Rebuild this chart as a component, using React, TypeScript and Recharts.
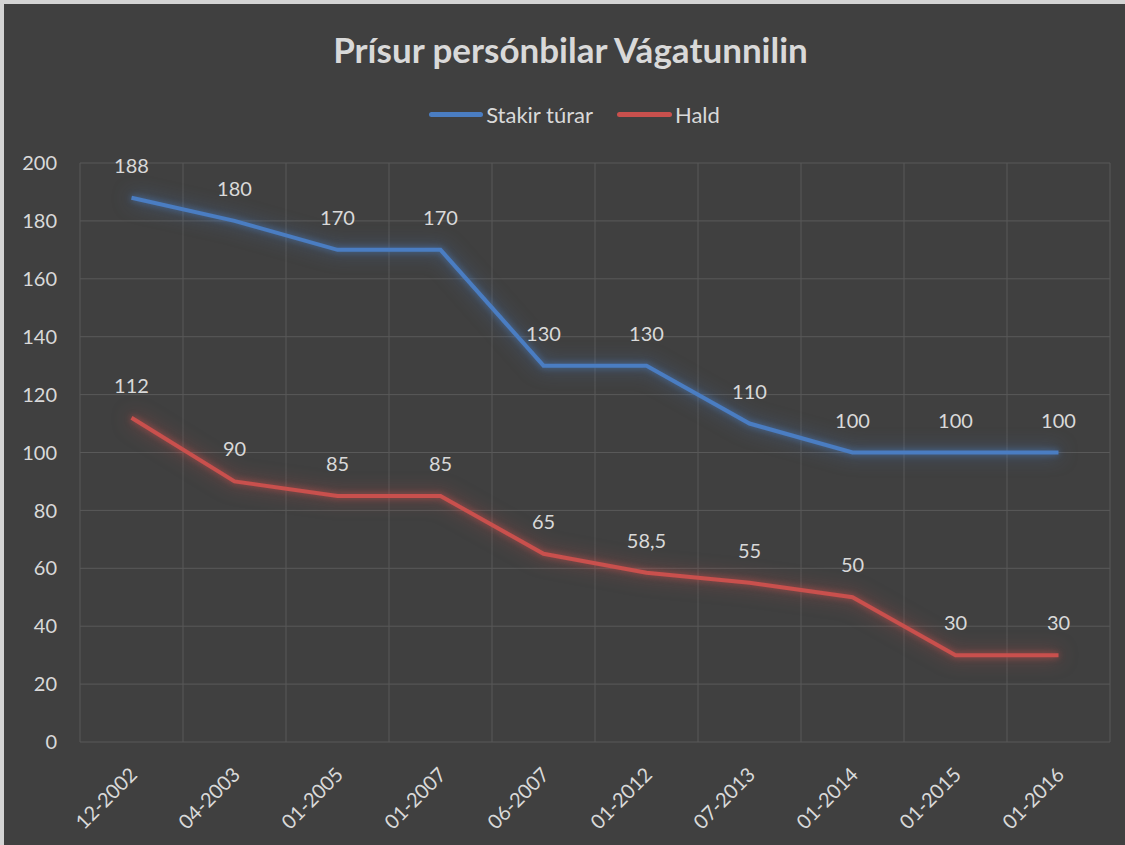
import React from "react";
import {
  LineChart,
  Line,
  XAxis,
  YAxis,
  CartesianGrid,
  Legend,
  LabelList,
} from "recharts";

const categories = [
  "12-2002",
  "04-2003",
  "01-2005",
  "01-2007",
  "06-2007",
  "01-2012",
  "07-2013",
  "01-2014",
  "01-2015",
  "01-2016",
];
const stakirTurar = [188, 180, 170, 170, 130, 130, 110, 100, 100, 100];
const hald = [112, 90, 85, 85, 65, 58.5, 55, 50, 30, 30];
const yTicks = [0, 20, 40, 60, 80, 100, 120, 140, 160, 180, 200];

const seriesNames = { a: "Stakir túrar", b: "Hald" };
const BLUE = "#4A7DC2";
const RED = "#C9504D";
const TEXT = "#D9D9D9";
const FONT = "Lato, 'Open Sans', sans-serif";

const data = categories.map((c, i) => ({
  date: c,
  a: stakirTurar[i],
  b: hald[i],
}));

const fmt = (v: any) => String(v).replace(".", ",");

const XTick = (props: any) => {
  const { x, y, payload } = props;
  const ty = y + 29;
  return (
    <text
      x={x + 2}
      y={ty}
      dy="0.35em"
      textAnchor="end"
      fill={TEXT}
      fontSize={20}
      fontFamily={FONT}
      transform={`rotate(-45, ${x + 2}, ${ty})`}
    >
      {payload.value}
    </text>
  );
};

const LegendContent = () => (
  <div
    style={{
      display: "flex",
      justifyContent: "center",
      alignItems: "center",
      height: 30,
      paddingLeft: 20,
      fontFamily: FONT,
      fontSize: 22,
      color: TEXT,
    }}
  >
    <div style={{ display: "flex", alignItems: "center", marginRight: 24 }}>
      <div style={{ width: 54, height: 5, flexShrink: 0, borderRadius: 3, background: BLUE, marginRight: 3 }} />
      <span>{seriesNames.a}</span>
    </div>
    <div style={{ display: "flex", alignItems: "center" }}>
      <div style={{ width: 55, height: 5, flexShrink: 0, borderRadius: 3, background: RED, marginRight: 3 }} />
      <span>{seriesNames.b}</span>
    </div>
  </div>
);

export default function App() {
  const n = categories.length;
  return (
    <div
      style={{
        position: "absolute",
        left: 0,
        top: 0,
        width: 1125,
        height: 845,
        background: "#D4D4D4",
        overflow: "hidden",
      }}
    >
      <style>{`
        .glow-blue .recharts-line-curve { filter: drop-shadow(0 0 3px rgba(74,125,194,0.7)) drop-shadow(0 0 9px rgba(74,125,194,0.55)); }
        .glow-red .recharts-line-curve { filter: drop-shadow(0 0 3px rgba(201,80,77,0.7)) drop-shadow(0 0 9px rgba(201,80,77,0.55)); }
      `}</style>
      <div
        style={{
          position: "absolute",
          left: 4,
          top: 4,
          width: 1121,
          height: 841,
          background: "#404040",
        }}
      >
        <div
          style={{
            position: "absolute",
            left: 0,
            top: 24,
            width: 1121,
            paddingLeft: 12,
            boxSizing: "border-box",
            textAlign: "center",
            fontFamily: FONT,
            fontWeight: 700,
            fontSize: 35,
            lineHeight: "42px",
            color: TEXT,
          }}
        >
          Prísur persónbilar Vágatunnilin
        </div>
        <LineChart
          width={1121}
          height={841}
          data={data}
          margin={{ top: 129, right: 15, bottom: 0, left: 0 }}
          style={{ position: "absolute", left: 0, top: 0 }}
        >
          <CartesianGrid
            stroke="#595959"
            strokeWidth={1}
            verticalCoordinatesGenerator={(p: any) => {
              const off = p.offset;
              return Array.from({ length: n + 1 }, (_, i) => off.left + (i * off.width) / n);
            }}
          />
          <XAxis
            dataKey="date"
            scale="band"
            axisLine={false}
            tickLine={false}
            tickSize={0}
            tickMargin={0}
            height={103}
            interval={0}
            tick={<XTick />}
          />
          <YAxis
            domain={[0, 200]}
            ticks={yTicks}
            axisLine={false}
            tickLine={false}
            tickSize={0}
            tickMargin={23}
            width={76}
            tick={{ fill: TEXT, fontSize: 20, fontFamily: FONT }}
          />
          <Legend
            verticalAlign="top"
            content={<LegendContent />}
            wrapperStyle={{ top: 95, left: 0, width: 1121 }}
          />
          <Line
            className="glow-blue"
            dataKey="a"
            name={seriesNames.a}
            stroke={BLUE}
            strokeWidth={4}
            dot={false}
            type="linear"
            isAnimationActive={false}
          >
            <LabelList dataKey="a" position="top" offset={25} fill={TEXT} fontSize={20} fontFamily={FONT} formatter={fmt} />
          </Line>
          <Line
            className="glow-red"
            dataKey="b"
            name={seriesNames.b}
            stroke={RED}
            strokeWidth={4}
            dot={false}
            type="linear"
            isAnimationActive={false}
          >
            <LabelList dataKey="b" position="top" offset={25} fill={TEXT} fontSize={20} fontFamily={FONT} formatter={fmt} />
          </Line>
        </LineChart>
      </div>
    </div>
  );
}
